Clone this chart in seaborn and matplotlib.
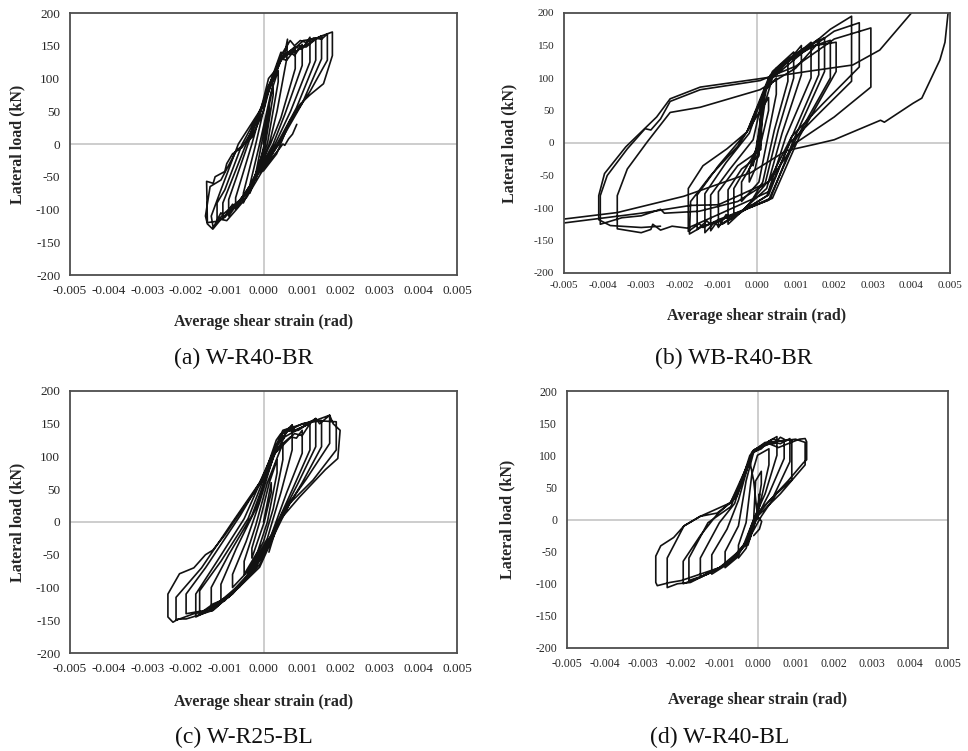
import numpy as np
import pandas as pd
import matplotlib
matplotlib.use("Agg")
import matplotlib.pyplot as plt
from matplotlib.ticker import FormatStrFormatter
import seaborn as sns

# ---------------------------------------------------------------------------
# Load–shear strain hysteresis traces (strain in 10^-3 rad, load in kN)
# ---------------------------------------------------------------------------

# (a) W-R40-BR
w_r40_br = [
    (0, 0), (0.15, 60), (0.15, 50), (0.02, 0), (-0.2, -55), (-0.2, -45),
    (-0.05, 0), (0.25, 90), (0.25, 75), (0.05, 0), (-0.35, -75), (-0.35, -62),
    (-0.1, 0), (0.2, 80), (0.38, 112), (0.38, 95), (0.1, 0), (-0.3, -60), (-0.52, -90), (-0.52, -75),
    (-0.2, 0), (0.15, 90), (0.45, 140), (0.55, 138), (0.62, 160), (0.6, 130), (0.35, 50), (0.15, 0),
    (-0.3, -65), (-0.5, -80), (-0.72, -100), (-0.72, -82),
    (-0.3, 0), (0.1, 85), (0.3, 110), (0.45, 130), (0.6, 128), (0.82, 145), (0.82, 115), (0.45, 40),
    (0.18, 0), (-0.4, -70), (-0.6, -85), (-0.9, -110), (-0.9, -85),
    (-0.4, 0), (0.05, 70), (0.4, 125), (0.7, 140), (0.8, 135), (1.0, 152), (1.0, 120), (0.55, 45),
    (0.25, 0), (-0.45, -75), (-0.7, -95), (-0.8, -92), (-1.05, -115), (-1.05, -90),
    (-0.45, 0), (0.0, 65), (0.45, 130), (0.8, 148), (1.0, 145), (1.2, 163), (1.2, 125), (0.7, 50),
    (0.3, 0), (-0.5, -78), (-0.9, -105), (-1.2, -120), (-1.2, -90),
    (-1.0, -70), (-0.55, 0), (0.0, 60), (0.5, 135), (0.9, 150), (1.1, 148), (1.35, 160), (1.35, 128),
    (0.85, 55), (0.35, 0), (-0.55, -82), (-1.0, -112), (-1.1, -105), (-1.3, -128), (-1.35, -110),
    (-1.1, -70), (-0.65, 0), (-0.05, 55), (0.5, 135), (0.8, 140), (1.2, 155), (1.5, 165), (1.5, 130),
    (1.0, 62), (0.4, 0), (-0.6, -85), (-1.0, -105), (-1.2, -118), (-1.45, -120), (-1.47, -57),
    (-1.3, -60), (-1.25, -50), (-1.0, -42), (-0.95, -30), (-0.8, -15), (-0.55, -5), (-0.3, 20),
    (-0.1, 45), (0.13, 100), (0.3, 112), (0.45, 135), (0.69, 158), (0.8, 150), (0.95, 158),
    (1.1, 155), (1.3, 162), (1.5, 160), (1.65, 168), (1.65, 128), (1.2, 80), (0.7, 36), (0.38, 0),
    (-0.43, -81), (-0.7, -100), (-0.95, -117), (-1.1, -115), (-1.31, -130), (-1.45, -122),
    (-1.5, -110), (-1.38, -65),
    (-1.1, -55), (-0.7, -10), (-0.3, 10), (0.0, 50), (0.2, 95), (0.43, 132), (0.7, 140), (1.03, 158),
    (1.3, 160), (1.5, 165), (1.78, 171), (1.78, 135), (1.55, 92), (1.2, 75), (0.95, 61), (0.69, 36),
    (0.34, -15), (0.0, -41), (-0.2, -45), (0.0, -35), (0.1, -30), (0.2, -22), (0.3, -15), (0.4, -8),
    (0.5, 0), (0.55, -2), (0.65, 8), (0.75, 15), (0.8, 22), (0.86, 30),
]

# (b) WB-R40-BR : cyclic part, last push and the return branch
wb_r40_br_cycles = [
    (0, 0), (0.1, 40), (0.1, 25), (0.0, 0), (-0.1, -35), (-0.1, -20),
    (0.05, 0), (0.2, 60), (0.3, 70), (0.3, 50), (0.1, 0), (-0.05, -40), (-0.2, -60), (-0.2, -40),
    (0.0, -10), (0.1, 30), (0.2, 80), (0.5, 100), (0.5, 75), (0.25, 0), (0.05, -60), (-0.4, -90), (-0.4, -60),
    (0.0, -20), (0.1, 40), (0.3, 100), (0.8, 130), (0.8, 95), (0.45, 20), (0.15, -60), (-0.2, -95),
    (-0.6, -115), (-0.6, -70),
    (-0.3, -40), (0.05, -5), (0.15, 70), (0.4, 110), (0.95, 140), (0.95, 100), (0.55, 20), (0.2, -65),
    (-0.3, -100), (-0.75, -125), (-0.75, -72),
    (-0.4, -40), (0.05, -20), (0.1, 60), (0.35, 105), (0.8, 125), (1.15, 150), (1.15, 105), (0.65, 15),
    (0.25, -70), (-0.4, -105), (-0.7, -118), (-0.8, -110), (-1.0, -130), (-1.0, -75),
    (-0.5, -35), (0.1, -10), (0.15, 75), (0.5, 115), (1.0, 135), (1.4, 155), (1.4, 100), (0.75, 10),
    (0.26, -81), (-0.5, -110), (-0.9, -125), (-1.0, -118), (-1.2, -135), (-1.2, -80),
    (-0.7, -40), (-0.1, 5), (0.2, 85), (0.6, 120), (1.1, 140), (1.6, 160), (1.6, 105), (0.85, 2),
    (0.3, -80), (-0.6, -112), (-1.0, -128), (-1.1, -122), (-1.35, -138), (-1.35, -78),
    (-0.8, -30), (-0.2, 15), (0.25, 90), (0.7, 125), (1.2, 145), (1.75, 162), (1.75, 110), (0.95, 5),
    (0.35, -85), (-0.8, -115), (-1.2, -125), (-1.3, -120), (-1.55, -133), (-1.55, -80),
    (-1.0, -35), (-0.26, 17), (0.3, 95), (0.8, 125), (1.4, 148), (1.9, 158), (1.9, 100), (1.0, 5),
    (0.3, -88), (-1.0, -118), (-1.4, -130), (-1.5, -124), (-1.78, -136), (-1.78, -70),
    (-1.4, -35), (-0.78, -9), (-0.26, 17), (0.3, 100), (0.9, 130), (1.5, 150), (2.05, 155), (2.05, 110),
    (1.1, 10), (0.4, -85), (-1.0, -120), (-1.4, -128), (-1.75, -140), (-1.72, -90),
    (-1.2, -50), (-0.5, -5), (0.2, 60), (0.4, 100), (1.2, 140), (1.9, 175), (2.45, 195), (2.45, 95),
    (1.6, 45), (0.85, 0), (0.3, -75), (-1.0, -110), (-1.8, -131), (-2.2, -128), (-2.5, -134),
    (-2.7, -125), (-2.75, -133), (-3.0, -138), (-3.62, -132), (-3.62, -81),
    (-3.36, -40), (-2.84, 2), (-2.25, 47), (-1.47, 55), (0.08, 82), (1.0, 115), (1.6, 155), (2.0, 172),
    (2.65, 185), (2.65, 117), (1.7, 60), (0.9, 10), (0.3, -60), (-0.5, -90), (-1.5, -105),
    (-2.4, -108), (-2.5, -102), (-3.0, -112), (-3.5, -115), (-4.06, -125), (-4.06, -81),
    (-3.88, -50), (-3.36, -9), (-2.9, 22), (-2.75, 20), (-2.5, 37), (-2.25, 64), (-1.47, 82),
    (0.08, 96), (1.0, 118), (2.0, 160), (2.95, 177), (2.95, 86), (2.0, 40), (1.0, 0), (0.3, -60),
    (-1.0, -95), (-1.72, -96), (-3.0, -108), (-5.0, -123),
]
wb_r40_br_push = [
    (-5.0, -117), (-3.62, -107), (-1.9, -82), (-0.17, -46), (0.75, -12), (1.5, -2), (2.0, 5),
    (2.4, 15), (3.2, 35), (3.3, 32), (4.04, 61), (4.27, 69), (4.74, 128), (4.87, 155), (4.95, 200),
]
wb_r40_br_return = [
    (4.0, 200), (3.18, 143), (2.48, 120), (1.29, 110), (0.08, 99), (-1.47, 86), (-2.25, 68),
    (-2.6, 40), (-3.4, -6), (-3.95, -47), (-4.1, -81), (-4.1, -118), (-3.8, -127), (-3.0, -130),
    (-2.5, -128),
]

# (c) W-R25-BL
w_r25_bl = [
    (0, 0), (0.2, 60), (0.2, 45), (0.02, 0), (-0.3, -55), (-0.3, -40),
    (-0.1, 0), (0.15, 60), (0.35, 95), (0.35, 75), (0.1, 0), (-0.15, -45), (-0.5, -80), (-0.5, -60),
    (-0.2, -5), (0.1, 60), (0.5, 120), (0.5, 95), (0.25, 20), (0.0, -30), (-0.4, -75), (-0.8, -100),
    (-0.8, -80),
    (-0.45, -30), (-0.1, 30), (0.33, 115), (0.74, 148), (0.74, 110), (0.45, 45), (0.1, -25),
    (-0.5, -90), (-1.1, -120), (-1.1, -95),
    (-0.7, -40), (-0.2, 20), (0.3, 110), (0.7, 130), (0.85, 128), (1.0, 140), (1.0, 105), (0.6, 45),
    (0.2, -20), (-0.4, -80), (-0.9, -112), (-1.35, -130), (-1.35, -100),
    (-0.9, -50), (-0.3, 10), (0.3, 105), (0.8, 135), (1.0, 132), (1.2, 150), (1.2, 110), (0.75, 50),
    (0.25, -15), (-0.3, -75), (-0.9, -115), (-1.3, -125), (-1.65, -140), (-1.65, -105),
    (-1.1, -60), (-0.4, 5), (0.2, 95), (0.55, 130), (1.0, 145), (1.35, 158), (1.35, 115), (0.9, 60),
    (0.3, -10), (-0.2, -70), (-0.8, -110), (-1.4, -135), (-1.75, -145), (-1.75, -110),
    (-1.2, -60), (-0.5, 5), (0.1, 85), (0.5, 135), (1.0, 150), (1.5, 155), (1.5, 115), (1.0, 60),
    (0.4, 0), (-0.1, -65), (-1.0, -120), (-1.5, -135), (-2.0, -140), (-2.0, -110),
    (-1.5, -70), (-0.6, 10), (0.0, 70), (0.5, 138), (0.9, 140), (1.2, 152), (1.71, 163), (1.71, 120),
    (1.1, 65), (0.5, 15), (0.0, -50), (-0.62, -99), (-1.31, -135), (-1.8, -140), (-2.26, -150),
    (-2.26, -115),
    (-1.6, -70), (-0.8, 0), (-0.1, 60), (0.5, 140), (1.3, 155), (1.88, 153), (1.88, 110), (1.28, 64),
    (0.67, 28), (0.33, -13), (-0.1, -69), (-0.62, -99), (-1.31, -135), (-1.83, -145), (-2.0, -148),
    (-2.2, -148), (-2.34, -153), (-2.47, -145), (-2.47, -110),
    (-2.17, -79), (-1.8, -70), (-1.5, -50), (-1.31, -43), (-1.0, -20), (-0.62, 13), (-0.02, 64),
    (0.33, 125), (0.45, 135), (0.52, 128), (0.59, 140), (0.74, 148), (0.8, 140), (1.0, 145),
    (1.2, 150), (1.35, 158), (1.45, 150), (1.71, 163), (1.8, 150), (1.98, 140), (1.92, 97),
    (1.6, 80), (1.28, 60), (0.93, 38), (0.45, 5), (0.3, -15), (0.14, -46),
]

# (d) W-R40-BL
w_r40_bl = [
    (0, 0), (0.05, 40), (0.05, 30), (-0.05, 0), (-0.25, -40), (-0.25, -25),
    (-0.1, 0), (-0.05, 60), (0.1, 75), (0.1, 55), (-0.05, 0), (-0.3, -45), (-0.5, -60), (-0.5, -40),
    (-0.3, -5), (-0.15, 70), (0.0, 100), (0.3, 110), (0.3, 85), (0.05, 20), (-0.2, -25), (-0.55, -60),
    (-0.85, -75), (-0.85, -50),
    (-0.5, -10), (-0.3, 60), (-0.1, 105), (0.1, 110), (0.3, 122), (0.51, 129), (0.51, 100), (0.2, 40),
    (-0.1, 0), (-0.4, -45), (-0.8, -70), (-1.2, -85), (-1.2, -55),
    (-0.8, -15), (-0.5, 30), (-0.15, 105), (0.2, 120), (0.45, 118), (0.6, 128), (0.7, 125),
    (0.7, 95), (0.3, 40), (0.0, 5), (-0.3, -35), (-0.8, -70), (-1.2, -80), (-1.5, -90), (-1.5, -60),
    (-1.0, -5), (-0.6, 25), (-0.2, 100), (0.3, 122), (0.6, 118), (0.85, 126), (0.85, 90), (0.42, 36),
    (0.0, 8), (-0.2, -30), (-0.7, -65), (-1.3, -85), (-1.8, -95), (-1.8, -60),
    (-1.3, -5), (-0.7, 20), (-0.3, 80), (-0.1, 108), (0.5, 122), (0.9, 124), (0.9, 62), (0.5, 40),
    (0.1, 5), (-0.19, -26), (-0.63, -62), (-1.06, -77), (-1.5, -90), (-1.95, -100), (-1.95, -65),
    (-1.5, -25), (-1.06, 8), (-0.54, 36), (-0.1, 108), (0.3, 118), (0.55, 112), (0.8, 118),
    (1.1, 125), (1.25, 126), (1.29, 121), (1.29, 93), (1.2, 88), (0.8, 60), (0.42, 36), (0.0, 10),
    (-0.19, -26), (-0.63, -62), (-1.06, -77), (-1.76, -98), (-2.1, -100), (-2.37, -106), (-2.37, -60),
    (-1.93, -10), (-1.5, 5), (-0.71, 26), (-0.3, 80), (-0.1, 108), (0.4, 125), (0.6, 122), (1.0, 125),
    (1.25, 120), (1.25, 85), (0.6, 40), (0.0, 5), (-0.3, -40), (-1.0, -75), (-2.0, -95), (-2.3, -98),
    (-2.63, -103), (-2.67, -98), (-2.67, -57),
    (-2.54, -41), (-2.2, -28), (-1.93, -10), (-1.5, 5), (-1.06, 10), (-0.71, 26), (-0.4, 60),
    (-0.2, 90), (-0.1, 60), (0.0, 5), (0.11, -3), (0.05, -15), (-0.1, -25),
]

x_ticks = [-0.005, -0.004, -0.003, -0.002, -0.001, 0.0, 0.001, 0.002, 0.003, 0.004, 0.005]
y_ticks = [-200, -150, -100, -50, 0, 50, 100, 150, 200]
captions = ["(a) W-R40-BR", "(b) WB-R40-BR", "(c) W-R25-BL", "(d) W-R40-BL"]
x_title = "Average shear strain (rad)"
y_title = "Lateral load (kN)"


def to_frame(branches):
    parts = []
    for k, pts in enumerate(branches):
        arr = np.asarray(pts, dtype=float)
        parts.append(pd.DataFrame({"strain": arr[:, 0] / 1000.0,
                                   "load": arr[:, 1],
                                   "branch": k}))
    return pd.concat(parts, ignore_index=True)


sns.set_theme(style="white")
plt.rcParams["font.family"] = ["Liberation Serif", "DejaVu Serif"]
plt.rcParams["axes.unicode_minus"] = False

W, H = 968, 751
fig = plt.figure(figsize=(W / 100, H / 100), dpi=100)


def px_rect(left, top, right, bottom):
    return [left / W, 1 - bottom / H, (right - left) / W, (bottom - top) / H]


layout = [
    dict(box=(70, 13, 457, 275), data=[w_r40_br], fs=9.5, padx=7, pady=7,
         ylx=17, xly=322, capx=244, capy=358),
    dict(box=(564, 13, 950, 273), data=[wb_r40_br_cycles, wb_r40_br_push, wb_r40_br_return],
         fs=8, padx=6, pady=7, ylx=509, xly=316, capx=734, capy=358),
    dict(box=(70, 391, 457, 653), data=[w_r25_bl], fs=9.5, padx=7, pady=7,
         ylx=17, xly=702, capx=244, capy=737),
    dict(box=(567, 391, 948, 648), data=[w_r40_bl], fs=8.5, padx=7, pady=7,
         ylx=507, xly=700, capx=720, capy=737),
]

for spec, caption in zip(layout, captions):
    ax = fig.add_axes(px_rect(*spec["box"]))
    ax.axhline(0, color="#c9c9c9", lw=1.3, zorder=1)
    ax.axvline(0, color="#c9c9c9", lw=1.3, zorder=1)

    df = to_frame(spec["data"])
    sns.lineplot(data=df, x="strain", y="load", units="branch", estimator=None,
                 sort=False, color="#121212", lw=1.2, ax=ax, legend=False, zorder=3)

    ax.set_xlim(-0.005, 0.005)
    ax.set_ylim(-200, 200)
    ax.set_xticks(x_ticks)
    ax.set_yticks(y_ticks)
    ax.xaxis.set_major_formatter(FormatStrFormatter("%.3f"))
    ax.tick_params(axis="both", length=0, labelsize=spec["fs"], colors="#262626")
    ax.tick_params(axis="x", pad=spec["padx"])
    ax.tick_params(axis="y", pad=spec["pady"])
    ax.set_xlabel("")
    ax.set_ylabel("")
    ax.grid(False)
    for s in ax.spines.values():
        s.set_color("#4d4d4d")
        s.set_linewidth(1.3)
        s.set_zorder(5)

    fig.text(spec["ylx"] / W, 1 - ((spec["box"][1] + spec["box"][3]) / 2) / H, y_title,
             rotation=90, ha="center", va="center", fontsize=11.5, fontweight="bold",
             color="#262626")
    fig.text(((spec["box"][0] + spec["box"][2]) / 2) / W, 1 - spec["xly"] / H, x_title,
             ha="center", va="center", fontsize=11.5, fontweight="bold", color="#262626")
    fig.text(spec["capx"] / W, 1 - spec["capy"] / H, caption,
             ha="center", va="center", fontsize=17, color="#111111")

fig.savefig("out.png", dpi=100, facecolor="white")
